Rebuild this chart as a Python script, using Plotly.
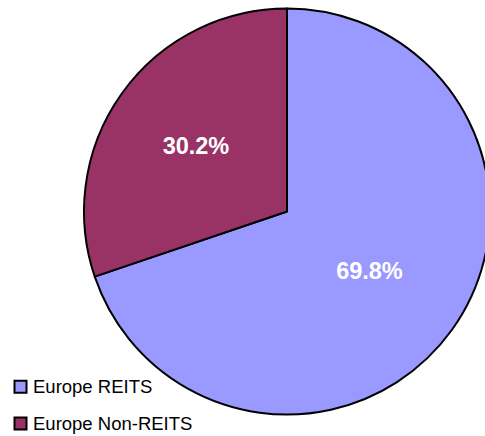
import plotly.graph_objects as go

labels = ["Europe REITS", "Europe Non-REITS"]
values = [69.8, 30.2]
colors = ["#9999FF", "#993366"]

W, H = 491, 436
cx, cy, r = 287, 211.5, 203

fig = go.Figure()
fig.add_trace(go.Pie(
    labels=labels, values=values, sort=False, direction="clockwise", rotation=0,
    marker=dict(colors=colors, line=dict(color="black", width=2)),
    textinfo="percent", texttemplate="%{percent:.1%}", textposition="inside",
    insidetextorientation="horizontal",
    textfont=dict(family="Liberation Sans, Arial, sans-serif", size=23.5, color="white", weight="bold"),
    domain=dict(x=[(cx - r) / W, min(1, (cx + r) / W)], y=[1 - (cy + r) / H, 1 - (cy - r) / H]),
    showlegend=False,
))

# manual legend
leg_y = [386.8, 423.5]
for i, (lab, col) in enumerate(zip(labels, colors)):
    yc = leg_y[i]
    fig.add_shape(type="rect", xref="paper", yref="paper",
                  x0=14.5 / W, x1=26.5 / W, y0=1 - (yc + 6) / H, y1=1 - (yc - 6) / H,
                  fillcolor=col, line=dict(color="black", width=2))
    fig.add_annotation(xref="paper", yref="paper", x=30.5 / W, y=1 - yc / H,
                       xanchor="left", yanchor="middle", showarrow=False, text=lab,
                       font=dict(family="Liberation Sans, Arial, sans-serif", size=18.5, color="black"))

fig.update_layout(width=W, height=H, margin=dict(l=0, r=0, t=0, b=0),
                  paper_bgcolor="white", plot_bgcolor="white")
fig.write_html("out.html", config={"displayModeBar": False}, post_script=(
    "document.body.style.margin='0';"
    "document.body.style.overflow='hidden';"
    "document.documentElement.style.overflow='hidden';"))
